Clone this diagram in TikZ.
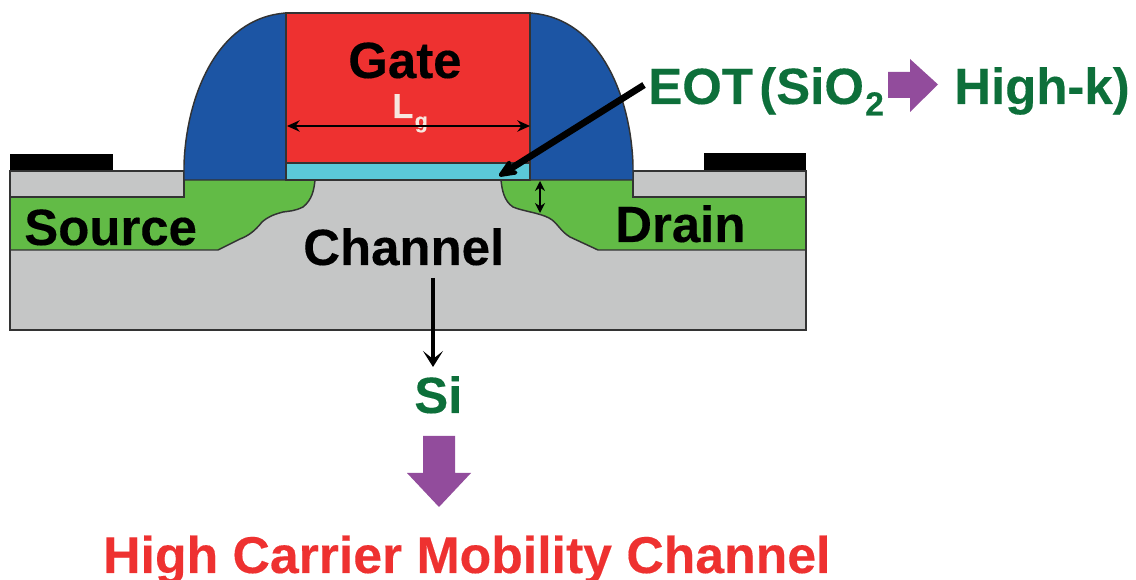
\documentclass[tikz,border=0pt]{standalone}
\usepackage{fontspec}
\setmainfont[BoldFeatures={FakeBold=0.25}]{Liberation Sans}
\usetikzlibrary{arrows.meta}
\definecolor{gatered}{HTML}{EE3130}
\definecolor{spacerblue}{HTML}{1C55A4}
\definecolor{oxidecyan}{HTML}{5BC8D8}
\definecolor{sdgreen}{HTML}{62BB46}
\definecolor{subgray}{HTML}{C5C6C6}
\definecolor{labelgreen}{HTML}{0D6F3A}
\definecolor{arrowpurple}{HTML}{924C9C}
\definecolor{lgwhite}{HTML}{F7E8DF}
\tikzset{
  layer/.style={draw=black!80,line width=1.1pt,line join=miter},
  lab/.style={anchor=base west,inner sep=0pt,font=\bfseries\fontsize{38.2}{40}\selectfont},
  greenlab/.style={lab,text=labelgreen},
  dim/.style={draw=black,line width=1.2pt,{Stealth[length=9.5pt,width=8.5pt]}-{Stealth[length=9.5pt,width=8.5pt]}},
  callout/.style={draw=black,line width=5pt,-{Stealth[length=20pt,width=17pt,inset=8pt,round]}},
  pointer/.style={draw=black,line width=3pt,-{Stealth[length=12pt,width=15pt,inset=6pt]}},
  bigarrow/.style={fill=arrowpurple,draw=none}
}
\begin{document}
\begin{tikzpicture}[x=0.75pt,y=-0.75pt]
\useasboundingbox (0,0) rectangle (1136,580);
\clip (0,0) rectangle (1136,580);
% substrate
\fill[subgray] (10,180) rectangle (806,330);
% contacts and top layers
\fill[black] (10,154) rectangle (113,171);
\fill[black] (704,153) rectangle (806,171);
\fill[subgray,layer] (10,171) rectangle (184,197);
\fill[subgray,layer] (633,171) rectangle (806,197);
% source
\fill[sdgreen] (11,197) -- (184,197) -- (184,180) -- (315,180)
  .. controls (314,190) and (312,200) .. (303,207)
  .. controls (295,211) and (290,211) .. (283,212)
  .. controls (272,215) and (268,217) .. (262,222)
  .. controls (255,231) and (248,236) .. (240,239)
  -- (218,250) -- (11,250) -- cycle;
\draw[layer] (184,180) -- (184,197) -- (11,197);
\draw[layer] (315,180)
  .. controls (314,190) and (312,200) .. (303,207)
  .. controls (295,211) and (290,211) .. (283,212)
  .. controls (272,215) and (268,217) .. (262,222)
  .. controls (255,231) and (248,236) .. (240,239)
  -- (218,250) -- (11,250);
% drain
\fill[sdgreen] (806,197) -- (633,197) -- (633,180) -- (501,180)
  .. controls (502,190) and (504,201) .. (513,207)
  .. controls (522,211) and (540,213) .. (549,218)
  .. controls (557,222) and (560,231) .. (570,237)
  -- (598,250) -- (806,250) -- cycle;
\draw[layer] (633,180) -- (633,197) -- (806,197);
\draw[layer] (501,180)
  .. controls (502,190) and (504,201) .. (513,207)
  .. controls (522,211) and (540,213) .. (549,218)
  .. controls (557,222) and (560,231) .. (570,237)
  -- (598,250) -- (806,250);
% substrate outline
\draw[layer] (10,171) -- (10,330) -- (806,330) -- (806,171);
% spacers
\filldraw[fill=spacerblue,layer] (184,180) -- (184,165) .. controls (186,100) and (215,18) .. (286,13) -- (286,180) -- cycle;
\filldraw[fill=spacerblue,layer] (633,180) -- (633,165) .. controls (631,100) and (602,18) .. (530,13) -- (530,180) -- cycle;
% gate and oxide
\filldraw[fill=gatered,layer] (286,13) rectangle (530,163);
\filldraw[fill=oxidecyan,layer] (286,163) rectangle (530,180);
% text
\node[lab] (gate) at (348,78) {Gate};
\node[anchor=base west,inner sep=0pt,text=lgwhite,font=\bfseries\fontsize{26}{28}\selectfont] (lg) at (392,118) {L\raisebox{-7.5pt}{\fontsize{16}{18}\selectfont\kern1pt g}};
\node[lab] (source) at (24,245) {Source};
\node[lab] (drain) at (615,242) {Drain};
\node[lab] (channel) at (303,265) {Channel};
\node[greenlab] (eot) at (648,104) {EOT};
\node[greenlab] (sio) at (759,104) {(SiO\raisebox{-8.6pt}{\fontsize{25}{28}\selectfont\kern1pt 2}};
\node[greenlab] (highk) at (954,104) {High-k)};
\node[greenlab] (si) at (414,413) {Si};
\node[lab,text=gatered,font=\bfseries\fontsize{38.8}{40}\selectfont] (hcmc) at (103,573) {High Carrier Mobility Channel};
% connectors
\coordinate (lgL) at (287,126);
\coordinate (lgR) at (530,126);
\draw[dim] (lgL) -- (lgR);
\coordinate (tA) at (540,181);
\coordinate (tB) at (540,213);
\draw[dim,{Stealth[length=7.5pt,width=7.5pt]}-{Stealth[length=7.5pt,width=7.5pt]}] (tA) -- (tB);
\coordinate (eotS) at (644,85);
\coordinate (eotE) at (499,176);
\draw[callout] (eotS) -- (eotE);
\coordinate (chS) at (433,278);
\coordinate (chE) at (433,367);
\draw[pointer] (chS) -- (chE);
% purple arrows
\fill[bigarrow] (888,72) -- (910,72) -- (910,59) -- (938,84.5) -- (910,112) -- (910,98) -- (888,98) -- cycle;
\fill[bigarrow] (423,436) -- (455,436) -- (455,473) -- (471,473) -- (439,507) -- (407,473) -- (423,473) -- cycle;
\end{tikzpicture}
\end{document}
